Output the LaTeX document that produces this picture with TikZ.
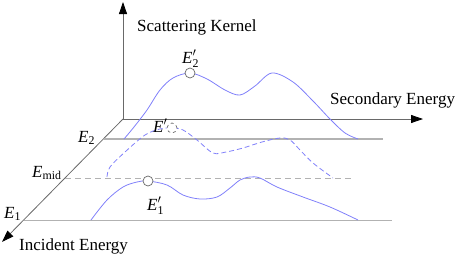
\documentclass[tikz,border=0pt]{standalone}
\usepackage{amsmath}
\usepackage{fontspec}
\setmainfont{Liberation Serif}
\newfontfamily\figfont{Liberation Serif}
\usepackage{xcolor}
\usepackage{tikz}
\usetikzlibrary{arrows.meta,positioning}
\definecolor{kernelblue}{RGB}{128, 128, 250}
\definecolor{axisgray}{RGB}{105, 105, 105}
\definecolor{levelgray}{RGB}{178, 178, 178}
\newcommand{\En}[1]{\textit{E}$_{\text{#1}}$}
\newcommand{\Ep}[1]{\textit{E}$'_{\text{#1}}$}

\begin{document}
\begin{tikzpicture}[
    x=1pt, y=-1pt,
    >={Triangle[length=12pt, width=8pt, color=black]},
    axis/.style={->, axisgray, line width=0.8pt},
    level/.style={levelgray, line width=1.4pt},
    kernel/.style={kernelblue, line width=0.8pt},
    peak/.style={circle, draw=axisgray, fill=white, line width=0.7pt, inner sep=0pt, minimum size=10pt},
    lbl/.style={anchor=base west, inner sep=0pt, font=\figfont\fontsize{17}{20}\selectfont}
]
    \useasboundingbox (0,0) rectangle (457,257);

    % Axes
    \coordinate (origin) at (123,119);
    \coordinate (kernelTip) at (123,2);
    \coordinate (secTip) at (423,119);
    \coordinate (incTip) at (2,242);
    \draw[axis] (origin) -- (kernelTip);
    \draw[axis] (origin) -- (secTip);
    \draw[axis] (origin) -- (incTip);
    \node[lbl] (kernelLbl) at (137,31) {Scattering Kernel};
    \node[lbl] (secLbl) at (330,104) {Secondary Energy};
    \node[lbl] (incLbl) at (19,250) {Incident Energy};

    % Incident energy levels
    \coordinate (e2a) at (104,139);
    \coordinate (e2b) at (383,139);
    \coordinate (ema) at (65,178);
    \coordinate (emb) at (351,178);
    \coordinate (e1a) at (24,220);
    \coordinate (e1b) at (392,220);
    \draw[level] (e2a) -- (e2b);
    \draw[levelgray, line width=0.9pt, dash pattern=on 6pt off 4pt] (ema) -- (emb);
    \draw[levelgray, line width=1pt] (e1a) -- (e1b);
    \node[lbl] (e2Lbl) at (78,142) {\En{2}};
    \node[lbl] (emLbl) at (32,177) {\En{mid}};
    \node[lbl] (e1Lbl) at (4,218) {\En{1}};

    % Kernels
    \draw[kernel] plot[smooth, tension=0.55] coordinates {(124,139) (134,127) (147,110) (160,90) (173,78) (190,73) (207,79) (225,90) (240,95) (255,86) (272,73) (293,82) (313,101) (330,119) (345,133) (358,139)};
    \draw[kernel, dash pattern=on 5pt off 3pt] plot[smooth, tension=0.55] coordinates {(107,177) (110,167) (125,152) (145,135) (160,129) (172,128) (183,130) (197,140) (213,153) (226,152) (243,148) (262,142) (280,138) (290,140) (300,150) (313,163) (333,178)};
    \draw[kernel] plot[smooth, tension=0.55] coordinates {(91,220) (107,200) (123,187) (137,182) (148,181) (167,185) (183,195) (200,199) (217,197) (230,188) (240,180) (250,177) (260,178) (277,187) (303,197) (330,207) (358,220)};

    % Peaks
    \node[lbl] (p2Lbl) at (182,63) {\Ep{2}};
    \node[lbl] (pmLbl) at (153,132) {\textit{E}$'$};
    \node[lbl] (p1Lbl) at (147,210) {\Ep{1}};
    \node[peak] (p2) at (190,73) {};
    \node[peak, dashed] (pm) at (172,128) {};
    \node[peak] (p1) at (148,181) {};

\end{tikzpicture}
\end{document}
